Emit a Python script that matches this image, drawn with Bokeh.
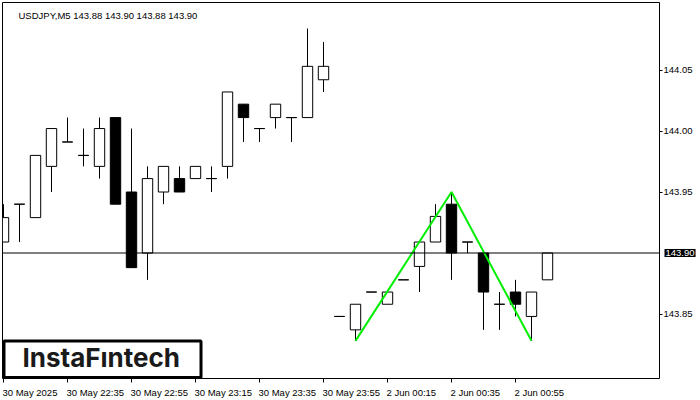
from bokeh.plotting import figure
from bokeh.models import (ColumnDataSource, Range1d, FixedTicker, LinearAxis,
                          Span, Label, BoxAnnotation)
from bokeh.embed import file_html
from bokeh.resources import INLINE

# ---------------- data ----------------
chart_title = "USDJPY,M5  143.88 143.90 143.88 143.90"

opens = [143.909, 143.940, 143.929, 143.971, 143.991, 143.980, 143.971, 144.011,
         143.950, 143.900, 143.950, 143.961, 143.961, 143.961, 143.971, 144.022,
         144.002, 144.011, 144.011, 144.011, 144.042, 143.848, 143.837, 143.868,
         143.858, 143.878, 143.889, 143.909, 143.940, 143.909, 143.900, 143.858,
         143.868, 143.848, 143.878]
highs = [143.940, 143.940, 143.980, 144.002, 144.011, 144.002, 144.011, 144.011,
         144.002, 143.971, 143.971, 143.971, 143.971, 143.971, 144.032, 144.022,
         144.002, 144.022, 144.011, 144.084, 144.073, 143.848, 143.858, 143.868,
         143.868, 143.878, 143.909, 143.940, 143.950, 143.909, 143.900, 143.868,
         143.878, 143.868, 143.900]
lows = [143.909, 143.909, 143.929, 143.950, 143.991, 143.971, 143.961, 143.940,
        143.888, 143.878, 143.940, 143.950, 143.961, 143.950, 143.961, 143.991,
        143.991, 144.002, 143.991, 144.011, 144.032, 143.848, 143.828, 143.868,
        143.858, 143.878, 143.868, 143.909, 143.878, 143.900, 143.837, 143.837,
        143.848, 143.828, 143.878]
closes = [143.929, 143.940, 143.980, 144.002, 143.991, 143.980, 144.002, 143.940,
          143.888, 143.961, 143.971, 143.950, 143.971, 143.961, 144.032, 144.011,
          144.002, 144.022, 144.011, 144.053, 144.053, 143.848, 143.858, 143.868,
          143.868, 143.878, 143.909, 143.930, 143.900, 143.909, 143.868, 143.858,
          143.858, 143.868, 143.900]

time_tick_idx = [0, 4, 8, 12, 16, 20, 24, 28, 32]
time_tick_labels = ["30 May 2025", "30 May 22:35", "30 May 22:55", "30 May 23:15",
                    "30 May 23:35", "30 May 23:55", "2 Jun 00:15", "2 Jun 00:35",
                    "2 Jun 00:55"]
price_ticks = [143.85, 143.95, 144.00, 144.05]
pattern_idx = [22, 28, 33]
pattern_price = [143.828, 143.950, 143.828]
logo_text = "InstaF\u0131ntech"

# ---------------- layout ----------------
W, H = 700, 400
BL, BT = 2, 2
FRAME_W, FRAME_H = 657, 376
PX_PER_BAR = 16.0
X_START = -1.0 / PX_PER_BAR
X_END = X_START + FRAME_W / PX_PER_BAR
PX_PER_PRICE = 1220.0
Y_END = 143.90 + 250.5 / PX_PER_PRICE
Y_START = Y_END - FRAME_H / PX_PER_PRICE
FONT = "Liberation Sans"
FS = 9.5
PRICE_PANEL_W = 31   # approx. width taken by the price-box panel

idx = list(range(len(opens)))
body_fill = ["white" if c >= o else "black" for o, c in zip(opens, closes)]
src = ColumnDataSource(dict(x=idx, o=opens, h=highs, l=lows, c=closes, fill=body_fill))

p = figure(width=W, height=H, output_backend="svg", toolbar_location=None,
           x_range=Range1d(X_START, X_END), y_range=Range1d(Y_START, Y_END),
           y_axis_location=None, min_border_left=BL, min_border_top=BT,
           min_border_right=W - FRAME_W - BL, min_border_bottom=H - FRAME_H - BT)
p.xgrid.visible = False
p.ygrid.visible = False
p.outline_line_color = "black"
p.outline_line_width = 1
p.background_fill_color = "white"
p.border_fill_color = "white"

# wicks + bodies
p.segment(x0="x", y0="h", x1="x", y1="l", source=src, line_color="black", line_width=1)
p.vbar(x="x", width=0.65, top="o", bottom="c", source=src, fill_color="fill",
       line_color="black", line_width=1)

# current price line
p.add_layout(Span(location=closes[-1], dimension="width", line_color="black", line_width=1))

# double-top pattern
p.line(pattern_idx, pattern_price, line_color="#00ee00", line_width=2)

# price box (first right panel, next to the frame)
p.add_layout(Label(x=5, x_units="screen", y=closes[-1], y_units="data",
                   text=f"{closes[-1]:.2f}", text_font=FONT, text_font_size=f"{FS}px",
                   text_baseline="middle", text_color="white", padding=1,
                   background_fill_color="black", background_fill_alpha=1.0),
             "right")

# y axis (second right panel, pulled back onto the frame edge)
ya = LinearAxis(ticker=FixedTicker(ticks=price_ticks),
                major_label_overrides={t: f"{t:.2f}" for t in price_ticks})
ya.axis_line_color = None
ya.major_tick_in = PRICE_PANEL_W
ya.major_tick_out = 3 - PRICE_PANEL_W
ya.minor_tick_line_color = None
ya.minor_tick_in = 0
ya.minor_tick_out = 0
ya.major_label_standoff = 4 - PRICE_PANEL_W
ya.major_label_text_font = FONT
ya.major_label_text_font_size = f"{FS}px"
ya.major_label_text_color = "black"
p.add_layout(ya, "right")

# x axis: labels left-aligned at the tick marks (minor ticks = real tick marks)
cw = {' ': 0.278, ':': 0.278, 'M': 0.833, 'a': 0.556, 'y': 0.5, 'J': 0.5, 'u': 0.556, 'n': 0.556}
def text_w(s):
    return sum(cw.get(ch, 0.556) for ch in s) * FS
lab_ticks = [t + (text_w(s) / 2 - 1) / PX_PER_BAR for t, s in zip(time_tick_idx, time_tick_labels)]
xa = p.xaxis[0]
xa.ticker = FixedTicker(ticks=lab_ticks, minor_ticks=time_tick_idx)
xa.major_label_overrides = {t: s for t, s in zip(lab_ticks, time_tick_labels)}
xa.axis_line_color = None
xa.major_tick_line_color = None
xa.major_tick_out = 0
xa.major_tick_in = 0
xa.minor_tick_line_color = "black"
xa.minor_tick_out = 4
xa.minor_tick_in = 0
xa.major_label_standoff = 4
xa.major_label_text_font = FONT
xa.major_label_text_font_size = f"{FS}px"
xa.major_label_text_color = "black"

# title text
p.add_layout(Label(x=16, y=FRAME_H - 13, x_units="screen", y_units="screen",
                   text=chart_title, text_font=FONT, text_font_size=f"{FS}px",
                   text_baseline="middle", text_color="black"))

# logo
p.add_layout(BoxAnnotation(left=1.5, right=198.5, bottom=1, top=37.5,
                           left_units="screen", right_units="screen",
                           bottom_units="screen", top_units="screen",
                           fill_color="white", fill_alpha=1.0,
                           line_color="black", line_alpha=1.0, line_width=3,
                           level="annotation"))
p.add_layout(Label(x=20, y=21, x_units="screen", y_units="screen", text=logo_text,
                   text_font="Inter", text_font_size="26px", text_font_style="bold",
                   text_color="#1a1a1a", text_baseline="alphabetic"))

open("out.html", "w").write(file_html(p, INLINE))
